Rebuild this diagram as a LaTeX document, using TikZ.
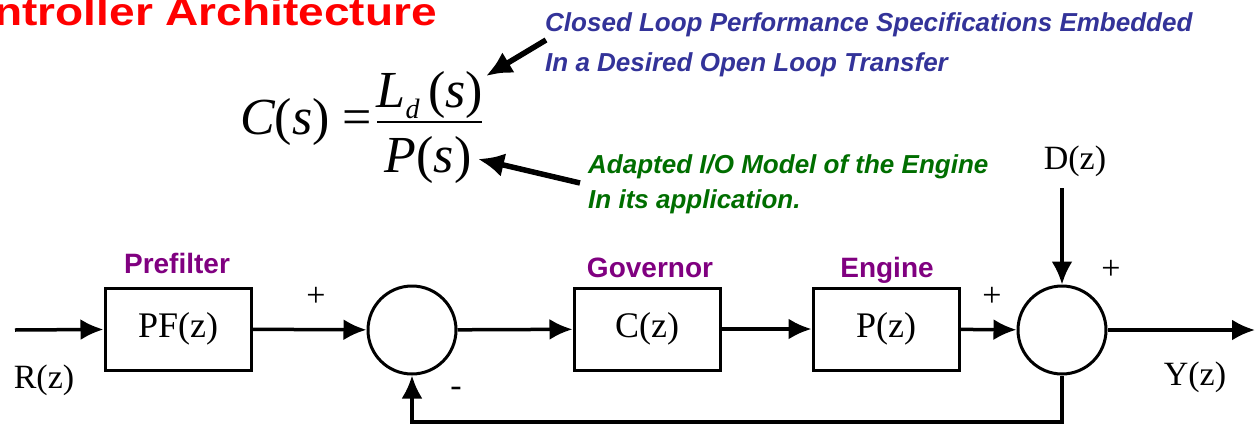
\documentclass[tikz,border=0pt]{standalone}
\usepackage{amsmath}
\usepackage{fontspec}
\setmainfont{Liberation Serif}
\newfontfamily\arialfont{Liberation Sans}
\usetikzlibrary{positioning,arrows.meta}

\definecolor{titlered}{RGB}{255,0,0}
\definecolor{noteblue}{RGB}{51,51,153}
\definecolor{notegreen}{RGB}{0,110,0}
\definecolor{tagpurple}{RGB}{128,0,128}

\tikzset{
  block/.style={draw, line width=3pt, minimum width=146pt, minimum height=82pt, inner sep=0pt, font=\fontsize{36}{40}\selectfont},
  sumnode/.style={draw, circle, line width=3pt, minimum size=88pt, inner sep=0pt},
  sig/.style={line width=3.5pt, -{Latex[length=23pt,width=21pt]}},
  pointer/.style={line width=5.5pt, -{Latex[length=26pt,width=24pt]}},
  plain/.style={inner sep=0pt, font=\fontsize{34}{40}\selectfont},
  formula/.style={inner sep=0pt, font=\fontsize{52}{60}\selectfont},
  tag/.style={inner sep=0pt, text=tagpurple, font=\arialfont\bfseries\fontsize{28}{32}\selectfont},
  note/.style={inner sep=0pt, align=left, font=\arialfont\bfseries\itshape\fontsize{26}{40}\selectfont},
}

\begin{document}
\begin{tikzpicture}[x=1pt,y=-1pt]
			\useasboundingbox (0,0) rectangle (1256,426);
			% heading, cut at the page edge
			\node[inner sep=0pt, anchor=base east, text=titlered, font=\arialfont\bfseries\fontsize{39}{42}\selectfont] (title) at (437,25) {\scalebox{1.18}[1]{ntroller Architecture}};
			% controller formula
			\node[formula, anchor=base west] (lhs) at (240,134) {\itshape C\upshape(\itshape s\upshape) =};
			\node[formula, anchor=base] (num) at (430,107) {\itshape L\raisebox{-11pt}{\fontsize{28}{28}\selectfont d}\,\upshape(\itshape s\upshape)};
			\node[formula, anchor=base] (den) at (428,172) {\itshape P\upshape(\itshape s\upshape)};
			\coordinate (barL) at (377,122);
			\coordinate (barR) at (482,122);
			\draw[line width=2pt] (barL)--(barR);
			% notes
			\node[note, text=noteblue, anchor=north west] (spec) at (545,12) {Closed Loop Performance Specifications Embedded\\In a Desired Open Loop Transfer};
			\node[note, text=notegreen, anchor=north west, font=\arialfont\bfseries\itshape\fontsize{26}{35}\selectfont] (model) at (588,154) {Adapted I/O Model of the Engine\\In its application.};
			\coordinate (spectail) at (546,40);
			\coordinate (spechead) at (486,76);
			\coordinate (modeltail) at (580,183);
			\coordinate (modelhead) at (478,159);
			\draw[pointer] (spectail)--(spechead);
			\draw[pointer] (modeltail)--(modelhead);
			% loop
			\node[block] (pf) at (178,329) {PF(z)};
			\node[sumnode] (sumA) at (412,330) {};
			\node[block] (gov) at (647,329) {C(z)};
			\node[block] (eng) at (886,329) {P(z)};
			\node[sumnode] (sumB) at (1062,330) {};
			\node[tag] (pftag) at (177,263) {Prefilter};
			\node[tag] (govtag) at (650,268) {Governor};
			\node[tag] (engtag) at (887,270) {Engine};
			\coordinate (rin) at (15,330);
			\coordinate (yout) at (1255,330);
			\coordinate (dtop) at (1062,188);
			\coordinate (fbcorner) at (1062,422);
			\node[plain] (rlab) at (44,380) {R(z)};
			\node[plain] (ylab) at (1195,377) {Y(z)};
			\node[plain] (dlab) at (1075,161) {D(z)};
			\node[plain] (plusA) at (316,297) {+};
			\node[plain] (minusA) at (456,392) {-};
			\node[plain] (plusB) at (992,297) {+};
			\node[plain] (plusC) at (1111,270) {+};
			\draw[sig] (rin)--(pf);
			\draw[sig] (pf)--(sumA);
			\draw[sig] (sumA)--(gov);
			\draw[sig] (gov)--(eng);
			\draw[sig] (eng)--(sumB);
			\draw[sig] (sumB)--(yout);
			\draw[sig] (dtop)--(sumB);
			\draw[sig] (sumB.south)--(fbcorner)-|(sumA.south);
		\end{tikzpicture}
\end{document}
